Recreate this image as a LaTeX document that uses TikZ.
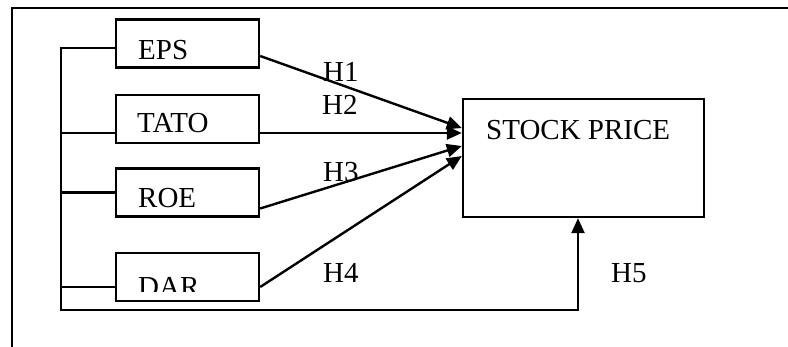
\documentclass[tikz,border=0pt]{standalone}
\usepackage{fontspec}
\setmainfont{Liberation Serif}
\usetikzlibrary{arrows.meta}
\begin{document}
\begin{tikzpicture}[x=1pt,y=-1pt,
  box/.style={draw, line width=2.4pt, minimum width=143pt, minimum height=48pt, inner sep=0pt},
  bigbox/.style={draw, line width=2.4pt, minimum width=241pt, minimum height=118pt, inner sep=0pt},
  lbl/.style={anchor=base west, inner sep=0pt, font=\fontsize{29}{34}\selectfont},
  ln/.style={line width=2.4pt},
  arr/.style={line width=2.4pt, -{Triangle[length=15pt,width=13pt]}}]
\useasboundingbox (0,0) rectangle (788,347);
% frame
\draw[line width=2.2pt] (788,8) -- (12,8) -- (12,347);
% boxes
\node[box] (eps) at (187.5,43.5) {};
\node[box] (tato) at (187.5,119) {};
\node[box] (roe) at (187.5,192.5) {};
\node[box] (dar) at (187.5,277) {};
\node[bigbox] (stock) at (583.5,158) {};
% box texts
\node[lbl] (epst) at (138,60) {EPS};
\node[lbl] (tatot) at (137,133) {TATO};
\node[lbl] (roet) at (138,208) {ROE};
\begin{scope}
\clip (120,250) rectangle (250,292);
\node[lbl] (dart) at (138,297) {DAR};
\end{scope}
\node[lbl] (stockt) at (486,140) {STOCK PRICE};
% hypothesis labels
\node[lbl] (h1) at (323,82) {H1};
\node[lbl] (h2) at (322,115) {H2};
\node[lbl] (h3) at (323,182) {H3};
\node[lbl] (h4) at (323,283) {H4};
\node[lbl] (h5) at (611,283) {H5};
% arrows to stock price
\draw[arr] ([yshift=-12.5pt]eps.east) -- ([yshift=30pt]stock.west);
\draw[arr] ([yshift=-14pt]tato.east) -- ([yshift=25pt]stock.west);
\draw[arr] ([yshift=-16pt]roe.east) -- ([yshift=12pt]stock.west);
\draw[arr] ([yshift=-10pt]dar.east) -- ([yshift=2pt]stock.west);
% bus
\coordinate (bb) at (61,310);
\draw[arr] ([yshift=-4.5pt]eps.west) -| (bb) -| ([xshift=-5.5pt]stock.south);
\draw[ln] ([yshift=-14pt]tato.west) -- ++(-55,0);
\draw[ln] (roe.west) -- ++(-55,0);
\draw[ln] ([yshift=-10pt]dar.west) -- ++(-55,0);
\end{tikzpicture}
\end{document}
